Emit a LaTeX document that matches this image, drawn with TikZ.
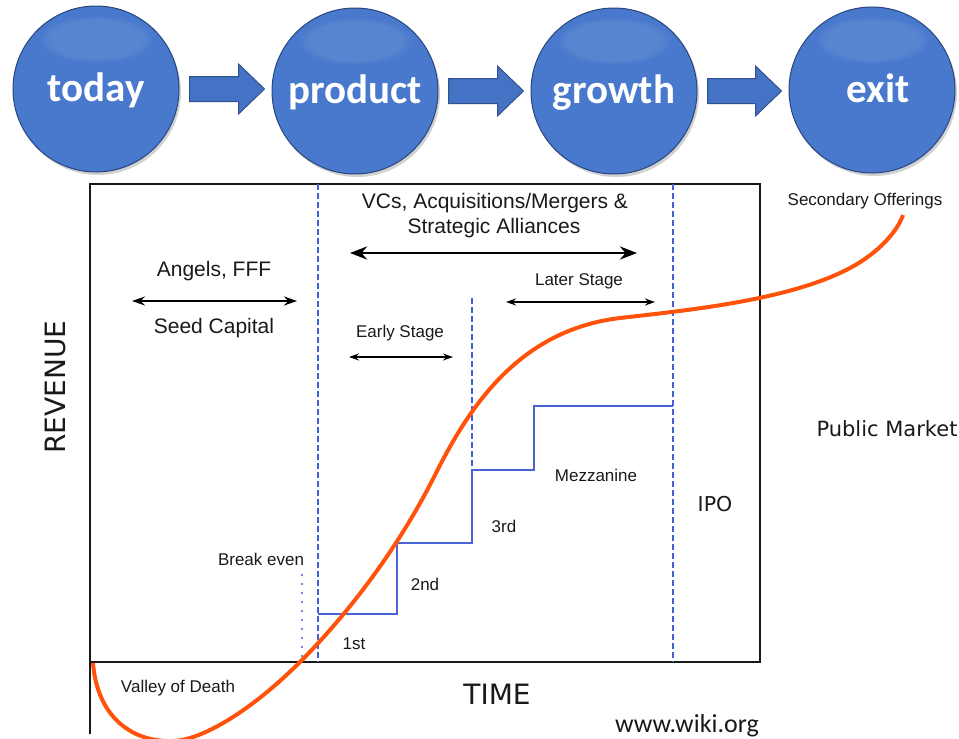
\documentclass[tikz,border=0pt]{standalone}
\usepackage{fontspec}
\setmainfont{Liberation Sans}
\newfontfamily\dejavu{DejaVu Sans}
\newfontfamily\carlito{Carlito}
\usetikzlibrary{arrows.meta,calc,fadings}

% palette
\definecolor{ballmid}{RGB}{72,121,204}
\definecolor{ballrimA}{RGB}{58,100,176}
\definecolor{ballrimB}{RGB}{36,66,122}
\definecolor{ballline}{RGB}{40,70,125}
\definecolor{arrowfill}{RGB}{68,114,196}
\definecolor{arrowline}{RGB}{47,82,143}
\definecolor{phaseblue}{RGB}{66,96,220}
\definecolor{roundblue}{RGB}{72,100,214}
\definecolor{revorange}{RGB}{255,82,10}

\pgfdeclareradialshading{stageballshade}{\pgfpoint{0bp}{0bp}}{%
  color(0bp)=(ballmid); color(40bp)=(ballmid); color(46bp)=(ballrimA);
  color(49bp)=(ballrimB); color(50bp)=(ballrimB)}

\newcommand\fs[1]{\fontsize{#1}{#1}\selectfont}

% block arrow between two stage balls
\newcommand\stagearrow[2]{%
  \path ($(#1.east)+(10,0)$) coordinate (sa);
  \path ($(#2.west)+(-7,0)$) coordinate (st0);
  \path (st0 |- sa) coordinate (st);
  \draw[stagearrowstyle] ($(sa)+(0,-12.5)$) -- ($(st)+(-26,-12.5)$)
    -- ($(st)+(-26,-25)$) -- (st) -- ($(st)+(-26,25)$)
    -- ($(st)+(-26,12.5)$) -- ($(sa)+(0,12.5)$) -- cycle;}

\tikzset{
  stageball/.style={circle, minimum size=166, inner sep=0,
    shading=stageballshade, draw=ballline, line width=1,
    text=white, font=\carlito\bfseries\fs{41},
    text height=32, text depth=8},
  stagearrowstyle/.style={fill=arrowfill, draw=arrowline, line width=1},
  axisline/.style={black!90, line width=2},
  phaseline/.style={phaseblue, line width=1.5, dash pattern=on 6pt off 3pt},
  roundline/.style={roundblue, line width=2},
  evenline/.style={phaseblue, line width=2.2, line cap=round, dash pattern=on 0pt off 9pt},
  revcurve/.style={revorange, line width=4},
  span/.style={black, line width=1.8, {Stealth[length=13,width=9]}-{Stealth[length=13,width=9]}},
  bigspan/.style={black, line width=2.8, {Stealth[length=17,width=13]}-{Stealth[length=17,width=13]}},
  smallspan/.style={black, line width=1.6, {Stealth[length=10,width=7]}-{Stealth[length=10,width=7]}},
  lbl/.style={inner sep=0, anchor=base, text=black!90},
  big/.style={lbl, font=\fs{21}},
  small/.style={lbl, font=\fs{17}},
  axislbl/.style={inner sep=0, text=black!90, font=\dejavu\fs{28}},
}

\begin{document}
\begin{tikzpicture}[x=1pt, y=-1pt]
\useasboundingbox (0,0) rectangle (959,739);

% ---- stage balls ----
\foreach \cx/\cy in {98/92, 357/94, 616/94, 874/93}
  \fill[black, opacity=0.18] (\cx,\cy) circle (83);
\node[stageball] (today)   at (96,89)  {today};
\node[stageball] (product) at (355,91) {product};
\node[stageball] (growth)  at (614,91) {growth};
\node[stageball] (exit)    at (872,90) {\hspace*{12pt}exit};
\foreach \b in {today, product, growth, exit}
  \fill[white, fill opacity=0.09, path fading=circle with fuzzy edge 20 percent]
    ($(\b.center)+(0,-50)$) ellipse (58 and 24);

\stagearrow{today}{product}
\stagearrow{product}{growth}
\stagearrow{growth}{exit}

% ---- chart frame ----
\draw[axisline] (90,184) rectangle (760,662);
\draw[axisline] (90,662) -- (90,734);

% phase separators
\draw[phaseline] (318,184) -- (318,662);
\draw[phaseline] (673,184) -- (673,662);
\draw[phaseline] (472,298) -- (472,470);
\draw[evenline] (302,575) -- (302,662);

% funding rounds
\draw[roundline] (318,614) -- (397,614) -- (397,543) -- (472,543)
  -- (472,470) -- (534,470) -- (534,406) -- (673,406);

% revenue curve: valley, steep climb, plateau, secondary rise
\draw[revcurve] (93,663)
  .. controls (97,715) and (130,742) .. (172,741)
  .. controls (200,741) and (250,712) .. (300,662)
  .. controls (350,612) and (400,545) .. (435,475)
  .. controls (470,405) and (520,330) .. (620,318)
  .. controls (690,310) and (790,300) .. (850,268)
  .. controls (880,252) and (898,230) .. (903,215);

% spans
\draw[span] (132,301) -- (297,301);
\draw[bigspan] (350,253) -- (637,253);
\draw[smallspan] (349,357) -- (453,357);
\draw[smallspan] (506,302) -- (655,302);

% ---- labels ----
\node[big] (vcsA) at (495,208) {VCs, Acquisitions/Mergers \&};
\node[big] (vcsB) at (494,233) {Strategic Alliances};
\node[big] (angels) at (214,276) {Angels, FFF};
\node[big] (seed) at (214,333) {Seed Capital};
\node[small] (early) at (400,337) {Early Stage};
\node[small] (later) at (579,285) {Later Stage};
\node[small] (second) at (865,205) {Secondary Offerings};
\node[small] (mezz) at (596,481) {Mezzanine};
\node[small] (rthird) at (504,532) {3rd};
\node[small] (rsecond) at (425,590) {2nd};
\node[small] (rfirst) at (354,649) {1st};
\node[small] (breakeven) at (261,565) {Break even};
\node[small] (valley) at (178,692) {Valley of Death};
\node[lbl, font=\dejavu\fs{21}] (public) at (887,436) {Public Market};
\node[lbl, font=\dejavu\fs{20.5}] (ipo) at (715,511) {IPO};
\node[axislbl, anchor=base] (time) at (497,704) {TIME};
\node[axislbl, rotate=90] (revenue) at (55,387) {REVENUE};
\node[lbl, font=\carlito\fs{26}] (src) at (687,732) {www.wiki.org};
\end{tikzpicture}
\end{document}
